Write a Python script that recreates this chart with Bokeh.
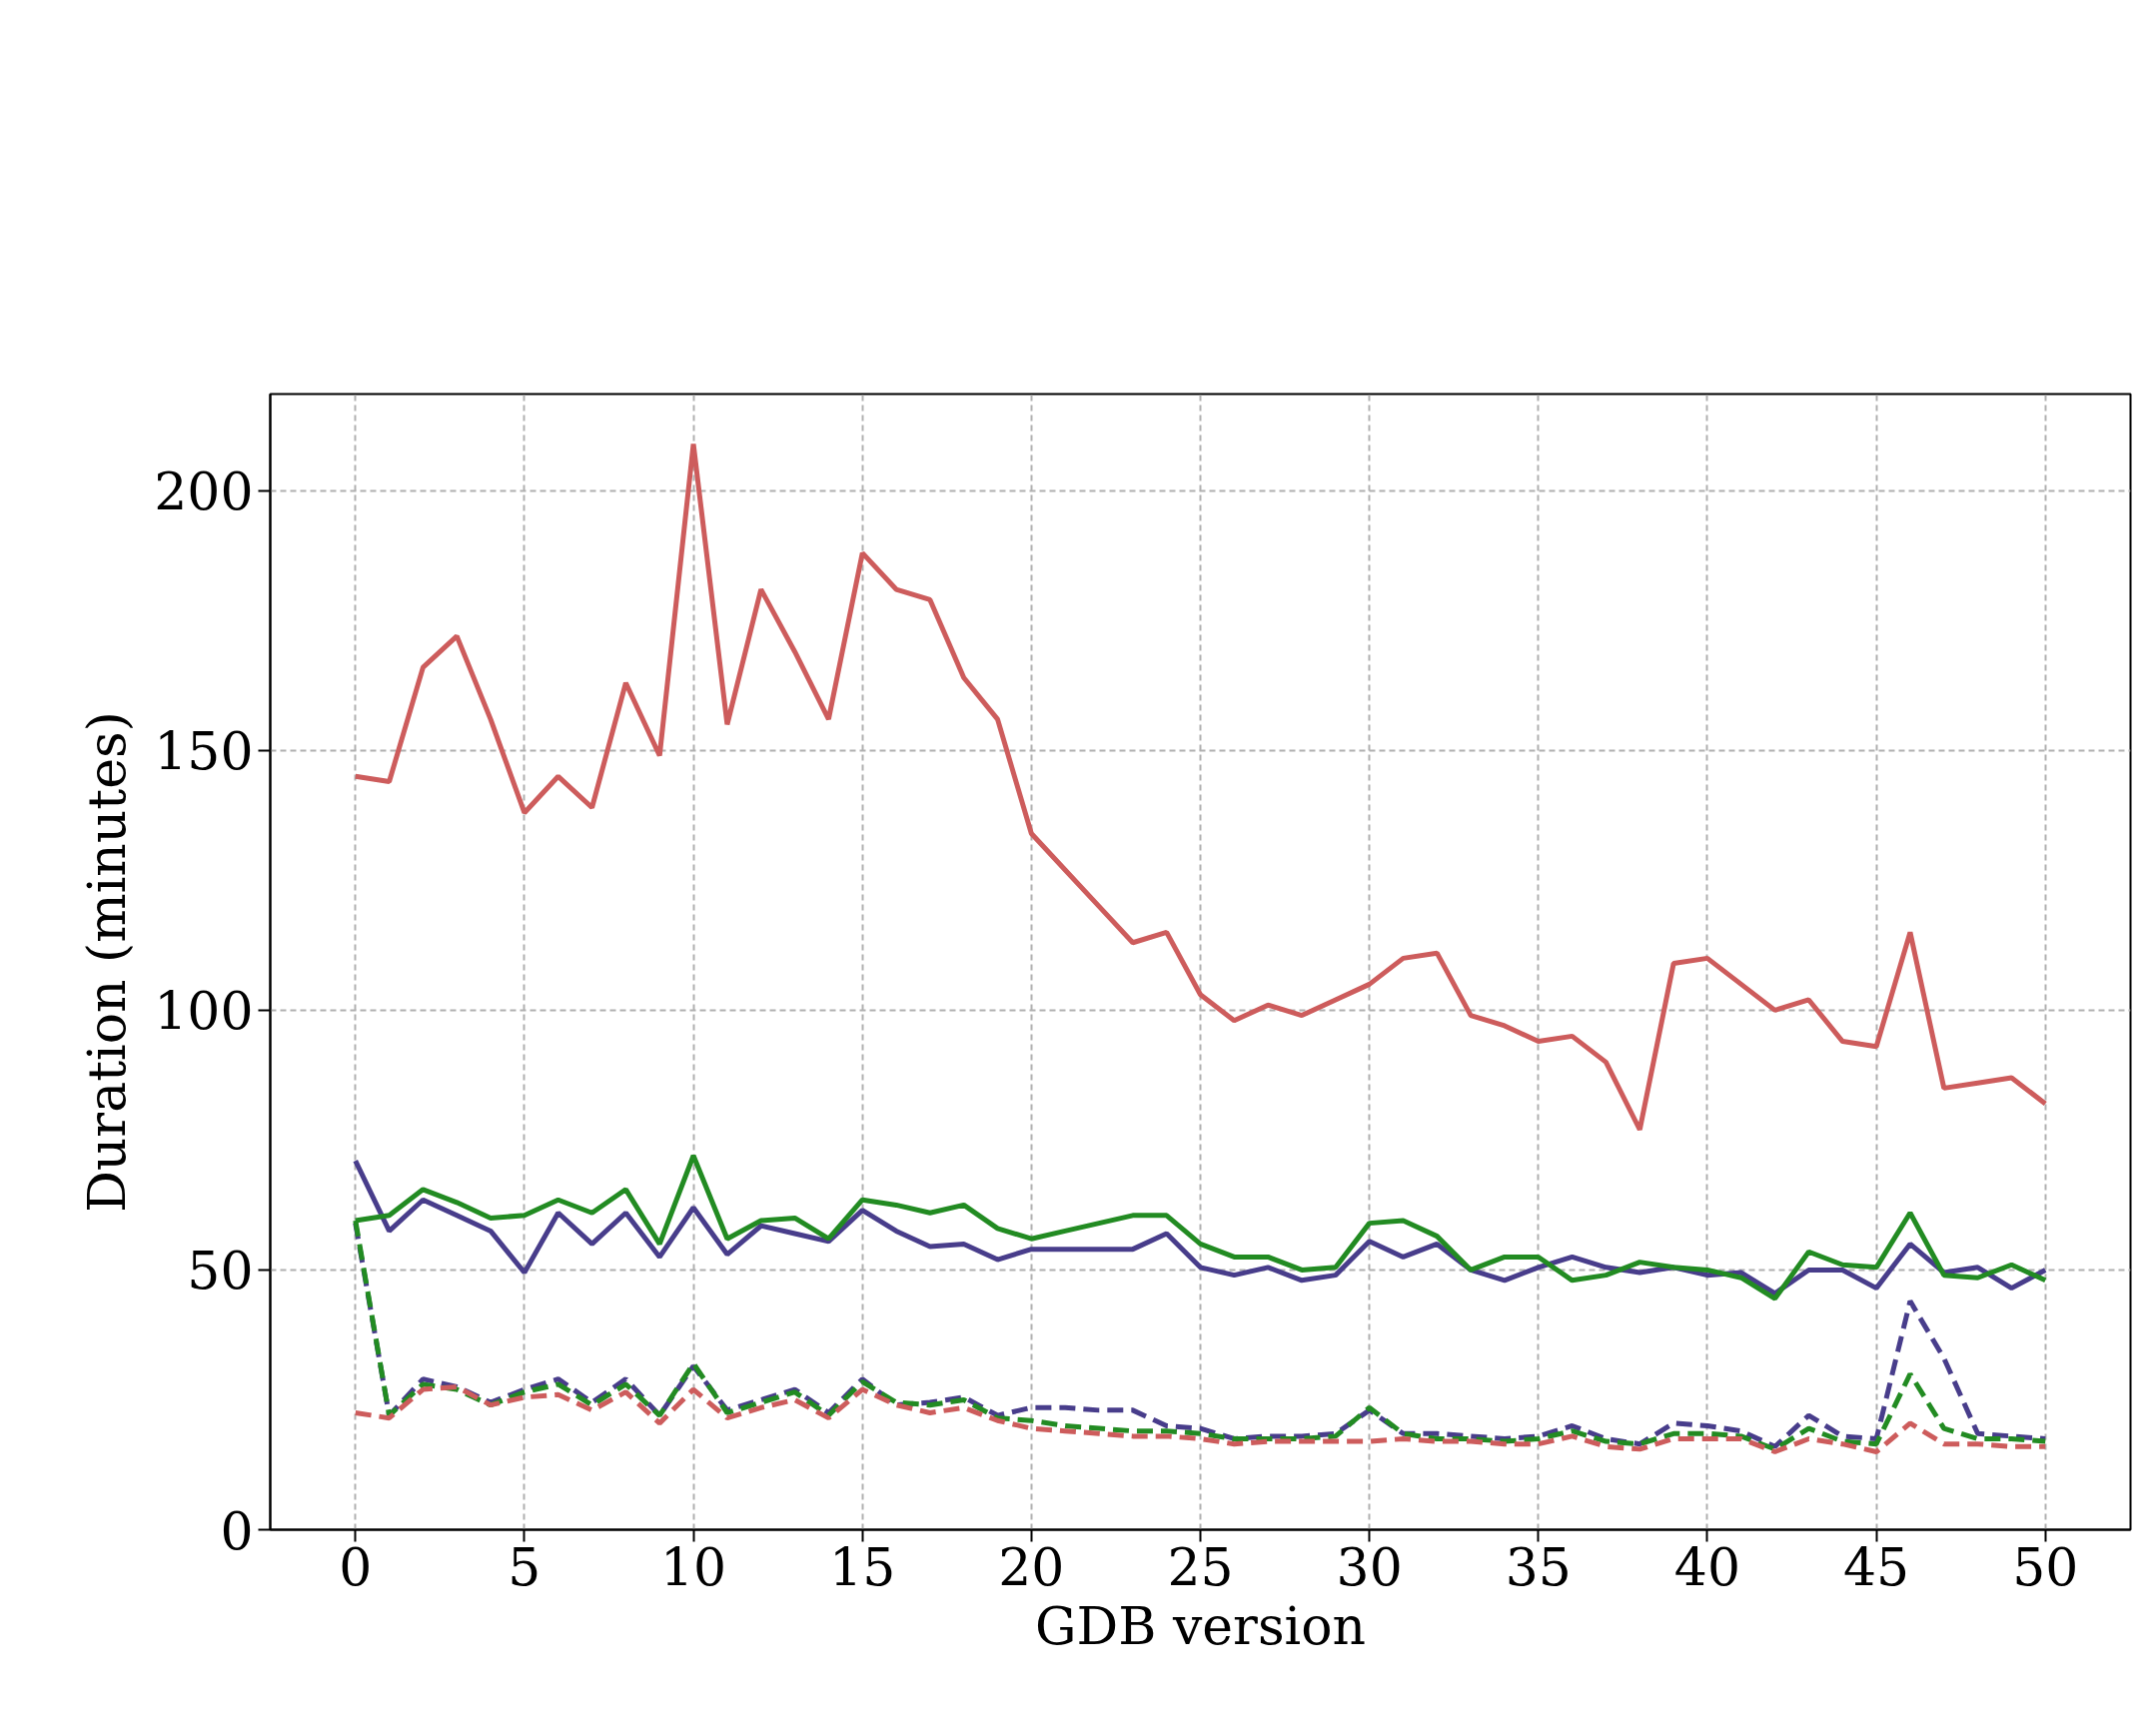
from bokeh.plotting import figure
from bokeh.models import Range1d, Legend, LegendItem
from bokeh.embed import file_html
from bokeh.resources import INLINE

versions = list(range(51))

schemex_incr = [59, 22, 29, 27.5, 24.5, 27, 29, 24.5, 29, 22, 31.5, 23, 25, 27, 22.5, 29, 24, 24.5, 25.5, 22,
                23.5, 23.5, 23, 23, 20, 19.5, 17.5, 18, 18, 18.5, 23, 18.5, 18.5, 18, 17.5, 18, 20, 17.5, 16.5, 20.5,
                20, 19, 16, 22, 18, 17.5, 44, 33, 18.5, 18, 17.5]
schemex_batch = [71, 57.5, 63.5, 60.5, 57.5, 49.5, 61, 55, 61, 52.5, 62, 53, 58.5, 57, 55.5, 61.5, 57.5, 54.5, 55, 52,
                 54, 54, 54, 54, 57, 50.5, 49, 50.5, 48, 49, 55.5, 52.5, 55, 50, 48, 50.5, 52.5, 50.5, 49.5, 50.5,
                 49, 49.5, 45.5, 50, 50, 46.5, 55, 49.5, 50.5, 46.5, 50]
attr_incr = [59.5, 22, 28, 27, 24, 26.5, 28, 24, 28, 22, 32, 22.5, 24.5, 26.5, 22, 28.5, 24.5, 24, 25, 21.5,
             21, 20, 19.5, 19, 19, 18.5, 17.5, 17.5, 17.5, 18, 23.5, 18.5, 17.5, 17.5, 17, 17.5, 19, 17, 16.5, 18.5,
             18.5, 18, 15.5, 19.5, 17, 16.5, 30, 19.5, 17.5, 17.5, 17]
attr_batch = [59.5, 60.5, 65.5, 63, 60, 60.5, 63.5, 61, 65.5, 55, 72, 56, 59.5, 60, 56, 63.5, 62.5, 61, 62.5, 58,
              56, 57.5, 59, 60.5, 60.5, 55, 52.5, 52.5, 50, 50.5, 59, 59.5, 56.5, 50, 52.5, 52.5, 48, 49, 51.5, 50.5,
              50, 48.5, 44.5, 53.5, 51, 50.5, 61, 49, 48.5, 51, 48]
class_incr = [22.5, 21.5, 27, 27.5, 24, 25.5, 26, 23, 26.5, 20.5, 27, 21.5, 23.5, 25, 21.5, 27, 24, 22.5, 23.5, 21,
              19.5, 19, 18.5, 18, 18, 17.5, 16.5, 17, 17, 17, 17, 17.5, 17, 17, 16.5, 16.5, 18, 16, 15.5, 17.5,
              17.5, 17.5, 15, 17.5, 16.5, 15, 20.5, 16.5, 16.5, 16, 16]
class_batch = [145, 144, 166, 172, 156, 138, 145, 139, 163, 149, 209, 155, 181, 169, 156, 188, 181, 179, 164, 156,
               134, 127, 120, 113, 115, 103, 98, 101, 99, 102, 105, 110, 111, 99, 97, 94, 95, 90, 77, 109,
               110, 105, 100, 102, 94, 93, 115, 85, 86, 87, 82]

series = [
    ("SchemEX:Incr", schemex_incr, "#483d8b", "dashed"),
    ("SchemEX:Batch", schemex_batch, "#483d8b", "solid"),
    ("AttrColl:Incr", attr_incr, "#228b22", "dashed"),
    ("AttrColl:Batch", attr_batch, "#228b22", "solid"),
    ("ClassColl:Incr", class_incr, "#cd5c5c", "dashed"),
    ("ClassColl:Batch", class_batch, "#cd5c5c", "solid"),
]

FONT = "DejaVu Serif"

p = figure(width=2150, height=1715, output_backend="svg", toolbar_location=None,
           x_axis_label="GDB version", y_axis_label="Duration (minutes)",
           min_border_left=270, min_border_right=18, min_border_bottom=184, min_border_top=394)
p.x_range = Range1d(-2.52, 52.52)
p.y_range = Range1d(0, 218.6)
p.xaxis.ticker = list(range(0, 51, 5))
p.yaxis.ticker = [0, 50, 100, 150, 200]

for ax in (p.xaxis, p.yaxis):
    ax.major_label_text_font = FONT
    ax.major_label_text_font_size = "52px"
    ax.axis_label_text_font = FONT
    ax.axis_label_text_font_size = "52px"
    ax.axis_label_text_font_style = "normal"
    ax.major_label_text_color = "black"
    ax.axis_label_text_color = "black"
    ax.axis_line_width = 2
    ax.major_tick_line_width = 2
    ax.major_tick_out = 12
    ax.major_tick_in = 0
    ax.minor_tick_line_color = None
    ax.axis_line_color = "black"
    ax.major_tick_line_color = "black"
p.xaxis.axis_label_standoff = 8
p.yaxis.axis_label_standoff = 14

p.outline_line_color = "black"
p.outline_line_width = 2
p.grid.grid_line_color = "#b0b0b0"
p.grid.grid_line_dash = "6 4"
p.grid.grid_line_width = 2

items = []
for name, vals, color, dash in series:
    dash_pat = "16 8" if dash == "dashed" else "solid"
    r = p.line(versions, vals, line_color=color, line_width=5, line_dash=dash_pat)
    items.append(LegendItem(label=name, renderers=[r]))

legend = Legend(items=items, nrows=3, orientation="vertical", location=(114, 1185),
                label_text_font=FONT, label_text_font_size="52px", label_text_color="black",
                glyph_width=136, glyph_height=80, label_standoff=55, spacing=17,
                label_width=640, padding=24, margin=0,
                border_line_color="#cccccc", border_line_width=3,
                background_fill_alpha=1.0)
p.add_layout(legend, "center")

open("out.html", "w").write(file_html(p, INLINE))
